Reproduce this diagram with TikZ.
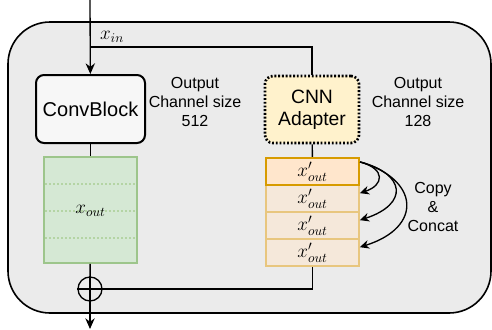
\documentclass[tikz,border=0pt]{standalone}
\usepackage{fontspec}
\setmainfont{Liberation Sans}
\usetikzlibrary{arrows.meta}

\definecolor{panelgray}{HTML}{EBEBEB}
\definecolor{convfill}{HTML}{F7F7F7}
\definecolor{adapterfill}{HTML}{FFF2CC}
\definecolor{greenfill}{HTML}{D5E8D4}
\definecolor{greenline}{HTML}{9DC58B}
\definecolor{greendot}{HTML}{B4D4A4}
\definecolor{orangefill}{HTML}{FFE6CC}
\definecolor{orangeline}{HTML}{D79B00}
\definecolor{palefill}{HTML}{F5E8DA}
\definecolor{paleline}{HTML}{E8C67E}

\begin{document}
\begin{tikzpicture}[x=0.75pt, y=-0.75pt,
    conn/.style={line width=1pt},
    flowarrow/.style={line width=1pt, -{Stealth[length=8pt, width=7pt]}},
    copyarrow/.style={line width=1pt, -{Stealth[length=7pt, width=6.5pt]}},
    blockbox/.style={draw, line width=1.5pt, rounded corners=6pt, fill=convfill,
        minimum width=81.75pt, minimum height=51pt, font=\fontsize{15}{17}\selectfont},
    adapterbox/.style={draw, line width=2pt, dash pattern=on 1.4pt off 1.4pt,
        rounded corners=6pt, fill=adapterfill, minimum width=70.5pt, minimum height=50.25pt,
        align=center, font=\fontsize{14.5}{16.5}\selectfont},
    featbox/.style={draw=greenline, line width=1.3pt, fill=greenfill,
        minimum width=69.75pt, minimum height=79.5pt, font=\Large},
    copybox/.style={draw=paleline, line width=1.2pt, fill=palefill,
        minimum width=69.75pt, minimum height=20.25pt, inner sep=0pt, font=\Large},
    firstbox/.style={copybox, draw=orangeline, line width=1.6pt, fill=orangefill},
    note/.style={align=center, font=\fontsize{12}{14.6}\selectfont},
    sumnode/.style={draw, circle, line width=1pt, minimum size=18pt, inner sep=0pt, fill=panelgray}]

    \useasboundingbox (0,0) rectangle (492,329);
    % outer panel
    \draw[line width=1.2pt, fill=panelgray, rounded corners=31.5pt] (8,22) rectangle (491,313);

    % blocks
    \node[blockbox] (conv) at (90.5,109) {ConvBlock};
    \node[adapterbox] (adapter) at (312,109.5) {CNN\\Adapter};
    \node[note] (convnote) at (195,102) {Output\\Channel size\\512};
    \node[note] (adapternote) at (418,102) {Output\\Channel size\\128};

    % outputs
    \node[featbox] (xout) at (90.5,210) {};
    \foreach \y in {184,211,238}
        \draw[greendot, line width=1.4pt, dash pattern=on 1.5pt off 1.5pt] (45,\y) -- (136,\y);
    \node[font=\Large] (xoutlabel) at (90.5,211) {$x_{out}$};

    \node[copybox] (copy2) at (312.5,198.5) {$x'_{out}$};
    \node[copybox] (copy3) at (312.5,225.5) {$x'_{out}$};
    \node[copybox] (copy4) at (312.5,252.5) {$x'_{out}$};
    \node[firstbox] (copy1) at (312.5,171.5) {$x'_{out}$};
    \node[note] (copynote) at (433,207) {Copy\\\&\\Concat};

    \node[sumnode] (plus) at (90,289) {};
    \draw[conn] (plus.north) -- (plus.south) (plus.west) -- (plus.east);

    % connectors
    \coordinate (in) at (90,0);
    \coordinate (split) at (90,47);
    \coordinate (out) at (90,329);
    \draw[flowarrow] (in) -- (conv);
    \draw[conn] (split) -| (adapter);
    \node[font=\Large] (xinlabel) at (112,37) {$x_{in}$};
    \draw[conn] (conv) -- (xout);
    \draw[conn] (adapter) -- (copy1);
    \draw[conn] (xout) -- (plus);
    \draw[conn] (copy4.south) |- (plus.east);
    \draw[flowarrow] (plus) -- (out);

    % copy arrows
    \coordinate (src) at ([yshift=-3.75pt]copy1.north east);
    \draw[copyarrow] (src) .. controls +(26,7) and +(24,-8) .. ([yshift=4pt]copy2.east);
    \draw[copyarrow] (src) .. controls +(46,12) and +(49,-16) .. ([yshift=4pt]copy3.east);
    \draw[copyarrow] (src) .. controls +(59,17) and +(64,-20) .. ([yshift=4pt]copy4.east);
\end{tikzpicture}
\end{document}
